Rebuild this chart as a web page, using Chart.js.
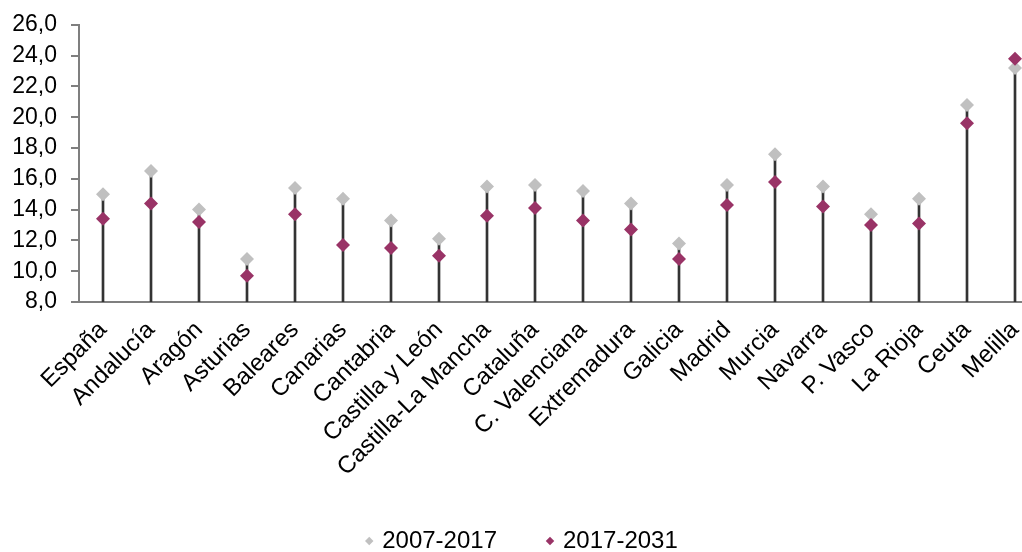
<!DOCTYPE html>
<html>
<head>
<meta charset="utf-8">
<script src="https://cdn.jsdelivr.net/npm/chart.js@4/dist/chart.umd.min.js"></script>
<style>
  html, body { margin: 0; padding: 0; background: #fff; overflow: hidden; }
  #wrap { width: 1022px; height: 552px; overflow: hidden; position: relative; }
  #box { width: 1046px; height: 566px; position: absolute; left: 0; top: -3px; }
</style>
</head>
<body>
<div id="wrap"><div id="box"><canvas id="c"></canvas></div></div>
<script>
const categories = ['España','Andalucía','Aragón','Asturias','Baleares','Canarias','Cantabria','Castilla y León','Castilla-La Mancha','Cataluña','C. Valenciana','Extremadura','Galicia','Madrid','Murcia','Navarra','P. Vasco','La Rioja','Ceuta','Melilla'];
const series2007 = [15.0,16.5,14.0,10.8,15.4,14.7,13.3,12.1,15.5,15.6,15.2,14.4,11.8,15.6,17.6,15.5,13.7,14.7,20.8,23.2];
const series2017 = [13.4,14.4,13.2,9.7,13.7,11.7,11.5,11.0,13.6,14.1,13.3,12.7,10.8,14.3,15.8,14.2,13.0,13.1,19.6,23.8];
const seriesNames = ['2007-2017','2017-2031'];
const yTickValues = [8,10,12,14,16,18,20,22,24,26];

const stems = series2007.map((v, i) => Math.max(v, series2017[i]));
const FONT = '"Liberation Sans", Arial, sans-serif';

new Chart(document.getElementById('c'), {
  type: 'bar',
  data: {
    labels: categories,
    datasets: [
      {
        type: 'line', label: seriesNames[1], data: series2017,
        showLine: false, pointStyle: 'rectRot', pointRadius: 7, pointHoverRadius: 7,
        backgroundColor: '#993366', borderColor: '#993366', borderWidth: 0, order: 1
      },
      {
        type: 'line', label: seriesNames[0], data: series2007,
        showLine: false, pointStyle: 'rectRot', pointRadius: 7, pointHoverRadius: 7,
        backgroundColor: '#C0C0C0', borderColor: '#C0C0C0', borderWidth: 0, order: 2
      },
      {
        type: 'bar', label: 'stem', data: stems,
        backgroundColor: '#333333', barThickness: 2, order: 3
      }
    ]
  },
  options: {
    responsive: true,
    maintainAspectRatio: false,
    animation: false,
    layout: { padding: { top: 5, left: 0, right: 0, bottom: 0 } },
    plugins: {
      tooltip: { enabled: false },
      legend: {
        position: 'bottom',
        reverse: true,
        labels: {
          filter: (item) => item.text !== 'stem',
          usePointStyle: true,
          pointStyle: 'rectRot',
          boxWidth: 2, boxHeight: 6,
          padding: 52,
          color: '#000',
          font: { family: FONT, size: 24 }
        }
      }
    },
    scales: {
      x: {
        grid: { display: false, drawOnChartArea: false },
        border: { display: true, color: '#7f7f7f', width: 2 },
        ticks: {
          color: '#000', font: { family: FONT, size: 24 },
          minRotation: 45, maxRotation: 45, autoSkip: false, padding: 6
        },
        afterFit: (s) => { s.height = 175; }
      },
      y: {
        min: 8, max: 26,
        afterBuildTicks: (s) => { s.ticks = yTickValues.map(v => ({ value: v })); },
        grid: { drawOnChartArea: false, drawTicks: true, tickLength: 8, color: '#7f7f7f', lineWidth: 2 },
        border: { display: true, color: '#7f7f7f', width: 2 },
        ticks: {
          autoSkip: false,
          color: '#000', font: { family: FONT, size: 23 }, padding: 14,
          callback: (v) => Number(v).toFixed(1).replace('.', ',')
        },
        afterFit: (s) => { s.width = 79; }
      }
    }
  }
});
</script>
</body>
</html>
